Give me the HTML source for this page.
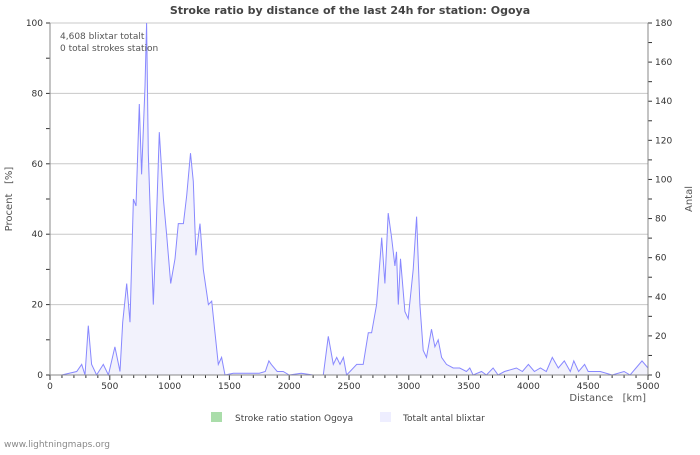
<!DOCTYPE html>
<html><head><meta charset="utf-8"><style>
body{margin:0;background:#fff;font-family:"Liberation Sans","DejaVu Sans",sans-serif}
svg text{font-family:"DejaVu Sans","Liberation Sans",sans-serif;white-space:pre}
</style></head><body>
<svg id="c" width="700" height="450" viewBox="0 0 700 450">
<text x="350" y="14" text-anchor="middle" font-size="11" font-weight="bold" fill="#444">Stroke ratio by distance of the last 24h for station: Ogoya</text>
<g id="grid"></g>
<g id="series"></g>
<g id="axes"></g>
<text x="60" y="39" font-size="9" fill="#555">4,608 blixtar totalt</text>
<text x="60" y="51" font-size="9" fill="#555">0 total strokes station</text>
<text x="12" y="199" font-size="10" fill="#555" text-anchor="middle" transform="rotate(-90 12 199)">Procent   [%]</text>
<text x="692" y="199" font-size="10" fill="#555" text-anchor="middle" transform="rotate(-90 692 199)">Antal</text>
<text x="646" y="401" font-size="10" fill="#555" text-anchor="end">Distance   [km]</text>
<rect x="211" y="412" width="11" height="10" fill="#aaddaa"/>
<text x="235" y="421" font-size="9" fill="#444">Stroke ratio station Ogoya</text>
<rect x="380" y="412" width="11" height="10" fill="#eeeeff"/>
<text x="403" y="421" font-size="9" fill="#444">Totalt antal blixtar</text>
<text x="4" y="447" font-size="9" fill="#888">www.lightningmaps.org</text>
</svg>
<script>
const distances=[0,98,223,265,293,320,348,390,446,488,543,585,608,641,669,697,719,747,766,794,808,822,864,886,914,948,975,1009,1045,1073,1115,1143,1175,1198,1220,1254,1282,1324,1352,1380,1407,1435,1463,1533,1602,1750,1800,1830,1850,1900,1950,2000,2100,2200,2285,2327,2369,2397,2425,2453,2480,2508,2564,2619,2661,2689,2731,2773,2800,2828,2856,2884,2897,2912,2931,2967,2995,3037,3065,3093,3120,3148,3190,3218,3246,3274,3315,3371,3426,3482,3510,3538,3608,3649,3705,3747,3800,3900,3950,4000,4050,4100,4150,4200,4250,4300,4350,4380,4420,4470,4500,4600,4700,4800,4850,4900,4950,5000];
const percents=[0,0,1,3,0,14,3,0,3,0,8,1,15,26,15,50,48,77,57,82,100,63,20,40,69,50,40,26,33,43,43,51,63,55,34,43,30,20,21,12,3,5,0,0.5,0.5,0.5,1,4,3,1,1,0,0.5,0,0,11,3,5,3,5,0,1,3,3,12,12,20,39,26,46,39,31,35,20,33,18,16,30,45,20,7,5,13,8,10,5,3,2,2,1,2,0,1,0,2,0,1,2,1,3,1,2,1,5,2,4,1,4,1,3,1,1,0,1,0,2,4,2];
const leftTicks=[0,20,40,60,80,100];
const rightTicks=[0,20,40,60,80,100,120,140,160,180];
const xTicks=[0,500,1000,1500,2000,2500,3000,3500,4000,4500,5000];
const X0=50,X1=648,Y0=375,Y1=23;
const sx=v=>X0+v/5000*(X1-X0);
const sy=v=>Y0-v/100*(Y0-Y1);
const sr=v=>Y0-v/180*(Y0-Y1);
const NS="http://www.w3.org/2000/svg";
function mk(p,t,a){const e=document.createElementNS(NS,t);for(const k in a)e.setAttribute(k,a[k]);p.appendChild(e);return e;}
const grid=document.getElementById('grid'),axes=document.getElementById('axes'),ser=document.getElementById('series');
leftTicks.forEach(t=>{const l=mk(grid,'line',{x1:X0,x2:X1,y1:sy(t),y2:sy(t),stroke:'#c8c8c8','stroke-width':1});


const tx=mk(axes,'text',{x:X0-7,y:sy(t)+3,'font-size':9,fill:'#333','text-anchor':'end'});tx.textContent=t;

});
for(let v=0;v<=100;v+=10){mk(axes,'line',{x1:X0-4,x2:X0,y1:sy(v),y2:sy(v),stroke:'#333'});}
rightTicks.forEach(t=>{const tx=mk(axes,'text',{x:X1+7,y:sr(t)+3,'font-size':9,fill:'#333'});tx.textContent=t;

});
for(let v=0;v<=180;v+=10){mk(axes,'line',{x1:X1,x2:X1+4,y1:sr(v),y2:sr(v),stroke:'#333'});}
xTicks.forEach(t=>{const tx=mk(axes,'text',{x:sx(t),y:Y0+14,'font-size':9,fill:'#333','text-anchor':'middle'});tx.textContent=t;

});
for(let v=0;v<=5000;v+=100){mk(axes,'line',{x1:sx(v),x2:sx(v),y1:Y0,y2:Y0+(v%500?3:5),stroke:'#333'});}
mk(axes,'line',{x1:X0,x2:X0,y1:Y1,y2:Y0,stroke:'#888'});
mk(axes,'line',{x1:X1,x2:X1,y1:Y1,y2:Y0,stroke:'#888'});
mk(axes,'line',{x1:X0,x2:X1,y1:Y0,y2:Y0,stroke:'#888'});
let pts=distances.map((d,i)=>sx(d).toFixed(1)+','+sy(percents[i]).toFixed(1));
const area=mk(ser,'polygon',{points:sx(0)+','+Y0+' '+pts.join(' ')+' '+sx(5000)+','+Y0,fill:'#f2f2fc',stroke:'none'});


const line=mk(ser,'polyline',{points:pts.join(' '),fill:'none',stroke:'#8888ff','stroke-width':1});


</script>
</body></html>
